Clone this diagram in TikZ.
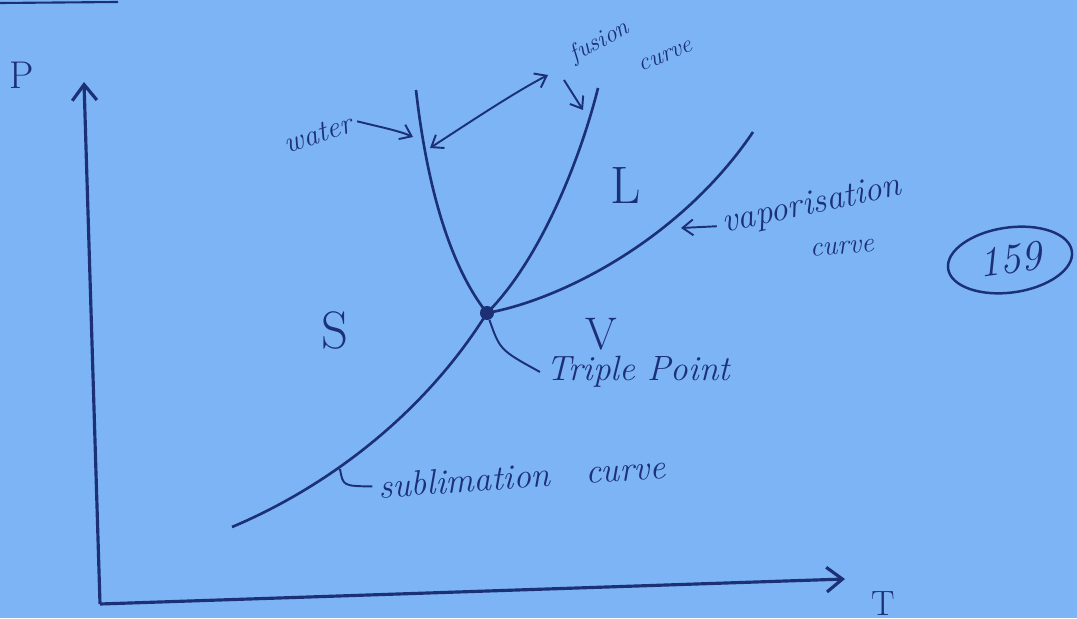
\documentclass[tikz,border=0pt]{standalone}
\usepackage{tikz}
\usetikzlibrary{arrows.meta,shapes.geometric}
\definecolor{paperblue}{RGB}{124,180,246}
\definecolor{ink}{RGB}{28,48,118}

\begin{document}
\begin{tikzpicture}[
    x=0.02cm, y=-0.02cm,
    every node/.style={text=ink},
    phasecurve/.style={draw=ink, line width=1.5pt},
    axisline/.style={draw=ink, line width=1.8pt, -{Straight Barb[length=9pt,width=14pt]}},
    pointer/.style={draw=ink, line width=1.1pt, -{Straight Barb[length=6pt,width=9pt]}},
    phase/.style={font=\fontsize{30}{30}\selectfont},
    note/.style={font=\fontsize{17}{20}\selectfont\itshape}
  ]
  \fill[paperblue] (0,0) rectangle (1077,618);
  \useasboundingbox (0,0) rectangle (1077,618);
  \draw[ink, line width=1.2pt] (0,3) -- (118,2);

  % axes
  \coordinate (O) at (100,604);
  \coordinate (ptop) at (84,82);
  \coordinate (tend) at (845,579);
  \draw[axisline] (O) -- (ptop);
  \draw[axisline] (O) -- (tend);
  \node[font=\fontsize{22}{22}\selectfont] (plab) at (22,75) {P};
  \node[font=\fontsize{20}{20}\selectfont, anchor=north, inner sep=0pt] (tlab) at (883,591) {T};

  % triple point and the four curves
  \node[circle, fill=ink, inner sep=0pt, minimum size=8pt] (tp) at (487,313) {};
  \coordinate (wtop) at (416,90);
  \coordinate (ftop) at (598,88);
  \coordinate (vtop) at (753,132);
  \coordinate (sbot) at (232,527);
  \draw[phasecurve] (wtop) .. controls (425,170) and (445,260) .. (tp.center);
  \draw[phasecurve] (ftop) .. controls (580,160) and (540,260) .. (tp.center);
  \draw[phasecurve] (tp.center) .. controls (560,300) and (680,240) .. (vtop);
  \draw[phasecurve] (sbot) .. controls (320,490) and (420,420) .. (tp.center);

  % phases
  \node[phase] (solid) at (335,330) {S};
  \node[phase] (liquid) at (626,185) {L};
  \node[phase, font=\fontsize{26}{26}\selectfont] (vapour) at (601,334) {V};

  % labels
  \node[note, rotate=18] (water) at (318,134) {water};
  \node[note, font=\fontsize{14}{14}\selectfont\itshape, rotate=28] (fus1) at (600,42) {fusion};
  \node[note, font=\fontsize{14}{14}\selectfont\itshape, rotate=22] (fus2) at (666,56) {curve};
  \node[note, font=\fontsize{20}{20}\selectfont\itshape, rotate=12] (vap1) at (812,206) {vaporisation};
  \node[note, font=\fontsize{16}{16}\selectfont\itshape, rotate=5] (vap2) at (842,248) {curve};
  \node[note, font=\fontsize{20}{20}\selectfont\itshape] (triple) at (638,372) {Triple Point};
  \node[note, font=\fontsize{20}{20}\selectfont\itshape, rotate=4] (subl) at (522,476) {sublimation\quad curve};
  \node[ellipse, draw=ink, line width=1.4pt, minimum width=2.5cm, minimum height=1.3cm,
        font=\fontsize{24}{24}\selectfont\itshape, rotate=8] (page) at (1010,260) {159};

  % pointers
  \coordinate (wend) at (413,137);
  \coordinate (dbl1) at (430,148);
  \coordinate (dbl2) at (548,75);
  \coordinate (fstart) at (564,80);
  \coordinate (fend) at (583,110);
  \coordinate (vend) at (681,228);
  \draw[pointer] (water.east) .. controls (380,127) and (400,131) .. (wend);
  \draw[pointer, {Straight Barb[length=6pt,width=9pt]}-{Straight Barb[length=6pt,width=9pt]}]
    (dbl1) .. controls (470,122) and (515,92) .. (dbl2);
  \draw[pointer] (fstart) -- (fend);
  \draw[pointer] (vap1.west) -- (vend);
  \draw[ink, line width=1.1pt] (340,469) .. controls (343,486) .. (subl.west);
  \draw[ink, line width=1.1pt] (tp) .. controls (500,350) .. (triple.west);
\end{tikzpicture}
\end{document}
